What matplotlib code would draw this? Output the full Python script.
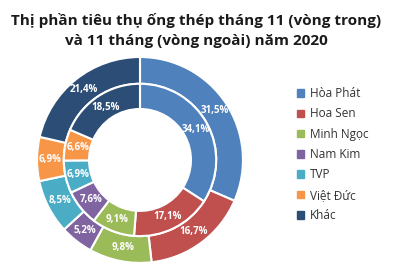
import matplotlib.pyplot as plt

companies = ['Hòa Phát', 'Hoa Sen', 'Minh Ngọc', 'Nam Kim', 'TVP', 'Việt Đức', 'Khác']
outer_vals = [31.5, 16.7, 9.8, 5.2, 8.5, 6.9, 21.4]   # 11 tháng
inner_vals = [34.1, 17.1, 9.1, 7.6, 6.9, 6.6, 18.5]   # tháng 11
colors = ['#4F81BD', '#C0504D', '#9BBB59', '#8064A2', '#4BACC6', '#F79646', '#2C4D75']

plt.rcParams['font.family'] = ['Open Sans', 'DejaVu Sans']

fig = plt.figure(figsize=(4, 2.76), dpi=100)
ax = fig.add_axes([0.0875, 0.04, 0.525, 0.761])

lbl = lambda v: '{:.1f}%'.format(v).replace('.', ',')
text_kw = dict(color='white', fontsize=7, fontweight='bold')

ax.pie(outer_vals, radius=1.0, colors=colors, startangle=90, counterclock=False,
       wedgeprops=dict(width=0.26, edgecolor='white', linewidth=1.5),
       labels=[lbl(v) for v in outer_vals], labeldistance=0.87, textprops=text_kw)
ax.pie(inner_vals, radius=0.74, colors=colors, startangle=90, counterclock=False,
       wedgeprops=dict(width=0.245, edgecolor='white', linewidth=1.5),
       labels=[lbl(v) for v in inner_vals], labeldistance=0.83, textprops=text_kw)
for t in ax.texts:
    t.set_horizontalalignment('center')
    t.set_verticalalignment('center')
ax.set_xlim(-1.02, 1.02)
ax.set_ylim(-1.02, 1.02)
ax.set_aspect('equal')

fig.text(0.49, 0.89, 'Thị phần tiêu thụ ống thép tháng 11 (vòng trong)\nvà 11 tháng (vòng ngoài) năm 2020',
         ha='center', va='center', fontsize=11, fontweight='bold', color='#1a1a1a', linespacing=1.6)

handles = [plt.Rectangle((0, 0), 1, 1, color=c) for c in colors]
fig.legend(handles, companies, loc='center left', bbox_to_anchor=(0.715, 0.44), frameon=False,
           fontsize=8.5, handlelength=0.6, handleheight=0.6, handletextpad=0.5, labelspacing=0.62,
           labelcolor='#333333')

fig.savefig('out.png', dpi=100)
